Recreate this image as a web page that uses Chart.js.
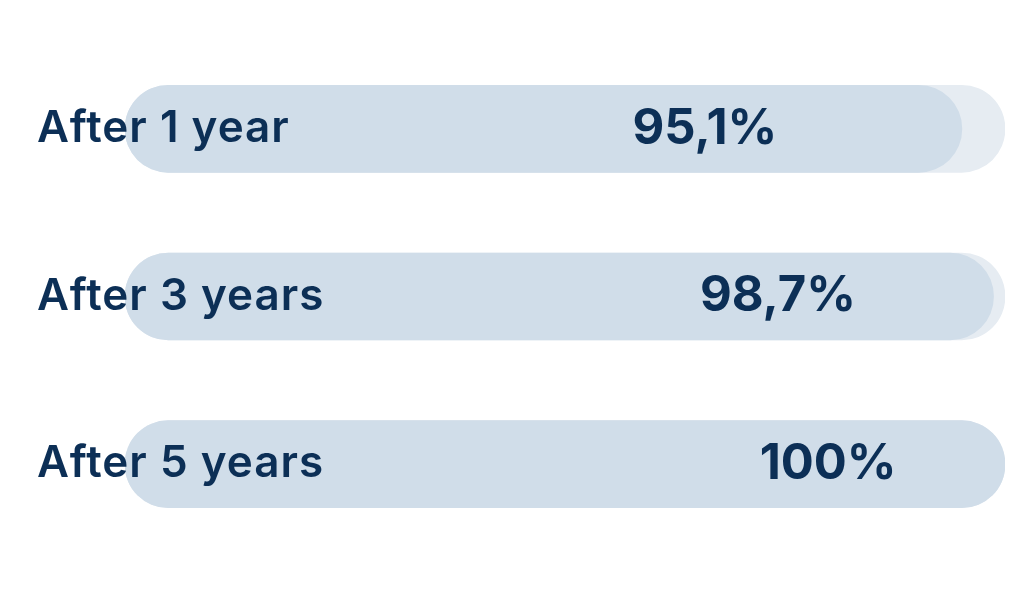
<!DOCTYPE html>
<html>
<head>
<meta charset="utf-8">
<script src="https://cdn.jsdelivr.net/npm/chart.js@4"></script>
<style>
  html, body { margin: 0; padding: 0; background: #ffffff; }
  #wrap { width: 1024px; height: 600px; }
</style>
</head>
<body>
<div id="wrap"><canvas id="chart"></canvas></div>
<script>
const categories = ['After 1 year', 'After 3 years', 'After 5 years'];
const retention = [95.1, 98.7, 100];
const track = [100, 100, 100];
const valueLabels = ['95,1%', '98,7%', '100%'];
// where the value text sits, in axis units
const labelAt = [65.9, 74.2, 79.9];

const navy = '#0c2f56';

const textPlugin = {
    id: 'barText',
    afterDatasetsDraw(chart) {
        const ctx = chart.ctx;
        const meta = chart.getDatasetMeta(0);
        const xScale = chart.scales.x;
        ctx.save();
        ctx.fillStyle = navy;
        ctx.textBaseline = 'middle';
        meta.data.forEach((bar, i) => {
            ctx.font = '600 44px Inter';
            ctx.letterSpacing = '1px';
            ctx.textAlign = 'left';
            ctx.fillText(categories[i], 37, bar.y);
            ctx.font = '700 49px Inter';
            ctx.letterSpacing = '0px';
            ctx.textAlign = 'center';
            ctx.fillText(valueLabels[i], xScale.getPixelForValue(labelAt[i]), bar.y);
        });
        ctx.restore();
    }
};

new Chart(document.getElementById('chart'), {
    type: 'bar',
    data: {
        labels: categories,
        datasets: [
            {
                data: retention,
                backgroundColor: '#d0dde9',
                borderRadius: 44,
                borderSkipped: false,
                barThickness: 87,
                grouped: false
            },
            {
                data: track,
                backgroundColor: '#e6ecf2',
                borderRadius: 44,
                borderSkipped: false,
                barThickness: 87,
                grouped: false
            }
        ]
    },
    options: {
        indexAxis: 'y',
        responsive: true,
        maintainAspectRatio: false,
        animation: false,
        layout: {padding: {left: 125, right: 19, top: 45, bottom: 52}},
        scales: {
            x: {display: false, min: 0, max: 100},
            y: {display: false}
        },
        plugins: {
            legend: {display: false},
            tooltip: {enabled: false}
        }
    },
    plugins: [textPlugin]
});
</script>
</body>
</html>
